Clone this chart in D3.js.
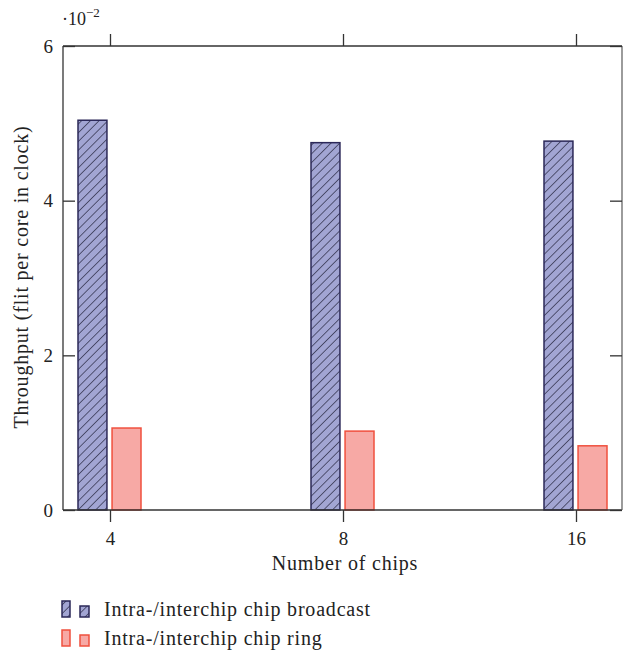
<!DOCTYPE html>
<html><head><meta charset="utf-8">
<script src="https://cdn.jsdelivr.net/npm/d3@7"></script>
<style>body{margin:0;background:#fff}svg{display:block}text{font-family:"Liberation Serif","DejaVu Serif",serif;fill:#222}</style>
</head><body><svg id="c" width="633" height="652"></svg>
<script>
const chips = ["4", "8", "16"];
const seriesNames = ["Intra-/interchip chip broadcast", "Intra-/interchip chip ring"];
const broadcast = [0.0504, 0.0475, 0.0477];
const ring = [0.0106, 0.0102, 0.0083];
const yTicks = [0, 0.02, 0.04, 0.06];

(function () {
const svg = d3.select("#c");
const L = 63, R = 622, T = 46, B = 510;
const x = d3.scalePoint().domain(chips).range([110, 576]);
const inner = d3.scaleBand().domain(seriesNames).range([-32, 31]).paddingInner(0.15);
const y = d3.scaleLinear().domain([0, 0.06]).range([B, T]);

const defs = svg.append("defs");
const pat = defs.append("pattern").attr("id", "hatch").attr("patternUnits", "userSpaceOnUse")
  .attr("width", 6.2).attr("height", 6.2).attr("patternTransform", "rotate(45)");
pat.append("rect").attr("width", 6.2).attr("height", 6.2).attr("fill", "#a2a5d3");
pat.append("line").attr("x1", 0).attr("y1", 0).attr("x2", 0).attr("y2", 6.2)
  .attr("stroke", "#1a1a30").attr("stroke-width", 1.2);

const styles = [
  {fill: "url(#hatch)", stroke: "#2b2858"},
  {fill: "#f7a9a5", stroke: "#f0503e"}
];
const data = [broadcast, ring];

data.forEach((vals, si) => {
  svg.append("g").selectAll("rect").data(vals).join("rect")
    .attr("x", (d, i) => x(chips[i]) + inner(seriesNames[si]))
    .attr("width", inner.bandwidth())
    .attr("y", d => y(d))
    .attr("height", d => B - y(d))
    .attr("fill", styles[si].fill)
    .attr("stroke", styles[si].stroke)
    .attr("stroke-width", 1.5);
});

const ax = svg.append("g").attr("stroke", "#333").attr("stroke-width", 1.3).attr("fill", "none");
ax.append("line").attr("x1", L).attr("x2", R).attr("y1", B).attr("y2", B);
ax.append("line").attr("x1", L).attr("x2", R).attr("y1", T).attr("y2", T);
ax.append("line").attr("x1", L).attr("x2", L).attr("y1", T).attr("y2", B);
ax.append("line").attr("x1", R).attr("x2", R).attr("y1", T).attr("y2", B).attr("stroke", "#666");

const axBottom = d3.axisBottom(x).tickSize(12).tickPadding(10);
const gb = svg.append("g").attr("transform", `translate(0,${B})`).call(axBottom);
const axTop = d3.axisTop(x).tickSize(12).tickFormat("");
const gt = svg.append("g").attr("transform", `translate(0,${T})`).call(axTop);
const axLeft = d3.axisLeft(y).tickValues(yTicks).tickSize(-12).tickPadding(10).tickFormat(d => d3.format("d")(d * 100));
const gl = svg.append("g").attr("transform", `translate(${L},0)`).call(axLeft);
const axRight = d3.axisRight(y).tickValues(yTicks).tickSize(-12).tickFormat("");
const gr = svg.append("g").attr("transform", `translate(${R},0)`).call(axRight);
[gb, gt, gl, gr].forEach(g => {
  g.select(".domain").remove();
  g.selectAll(".tick line").attr("stroke", "#333").attr("stroke-width", 1.3);
  g.selectAll(".tick text").attr("font-family", "Liberation Serif").attr("font-size", 19).attr("fill", "#222");
});

svg.append("text").attr("x", 62).attr("y", 25).attr("font-size", 18).text("·10").append("tspan")
  .attr("dy", -8).attr("font-size", 13).text("−2");

const lab = {"font-size": 20, "letter-spacing": 0.8};
svg.append("text").attr("x", 345).attr("y", 570).attr("text-anchor", "middle")
  .attr("font-size", lab["font-size"]).attr("letter-spacing", lab["letter-spacing"]).text("Number of chips");
svg.append("text").attr("transform", "translate(28,277) rotate(-90)").attr("text-anchor", "middle")
  .attr("font-size", lab["font-size"]).attr("letter-spacing", lab["letter-spacing"]).text("Throughput (flit per core in clock)");

const leg = svg.append("g");
const rows = [601, 630];
seriesNames.forEach((n, si) => {
  const g = leg.append("g");
  g.append("rect").attr("x", 62).attr("y", rows[si]).attr("width", 8).attr("height", 16)
    .attr("fill", styles[si].fill).attr("stroke", styles[si].stroke).attr("stroke-width", 1.5);
  g.append("rect").attr("x", 80).attr("y", rows[si] + 5).attr("width", 9).attr("height", 11)
    .attr("fill", styles[si].fill).attr("stroke", styles[si].stroke).attr("stroke-width", 1.5);
  g.append("text").attr("x", 104).attr("y", rows[si] + 15).attr("font-size", lab["font-size"])
    .attr("letter-spacing", lab["letter-spacing"]).text(n);
});
})();
</script></body></html>
